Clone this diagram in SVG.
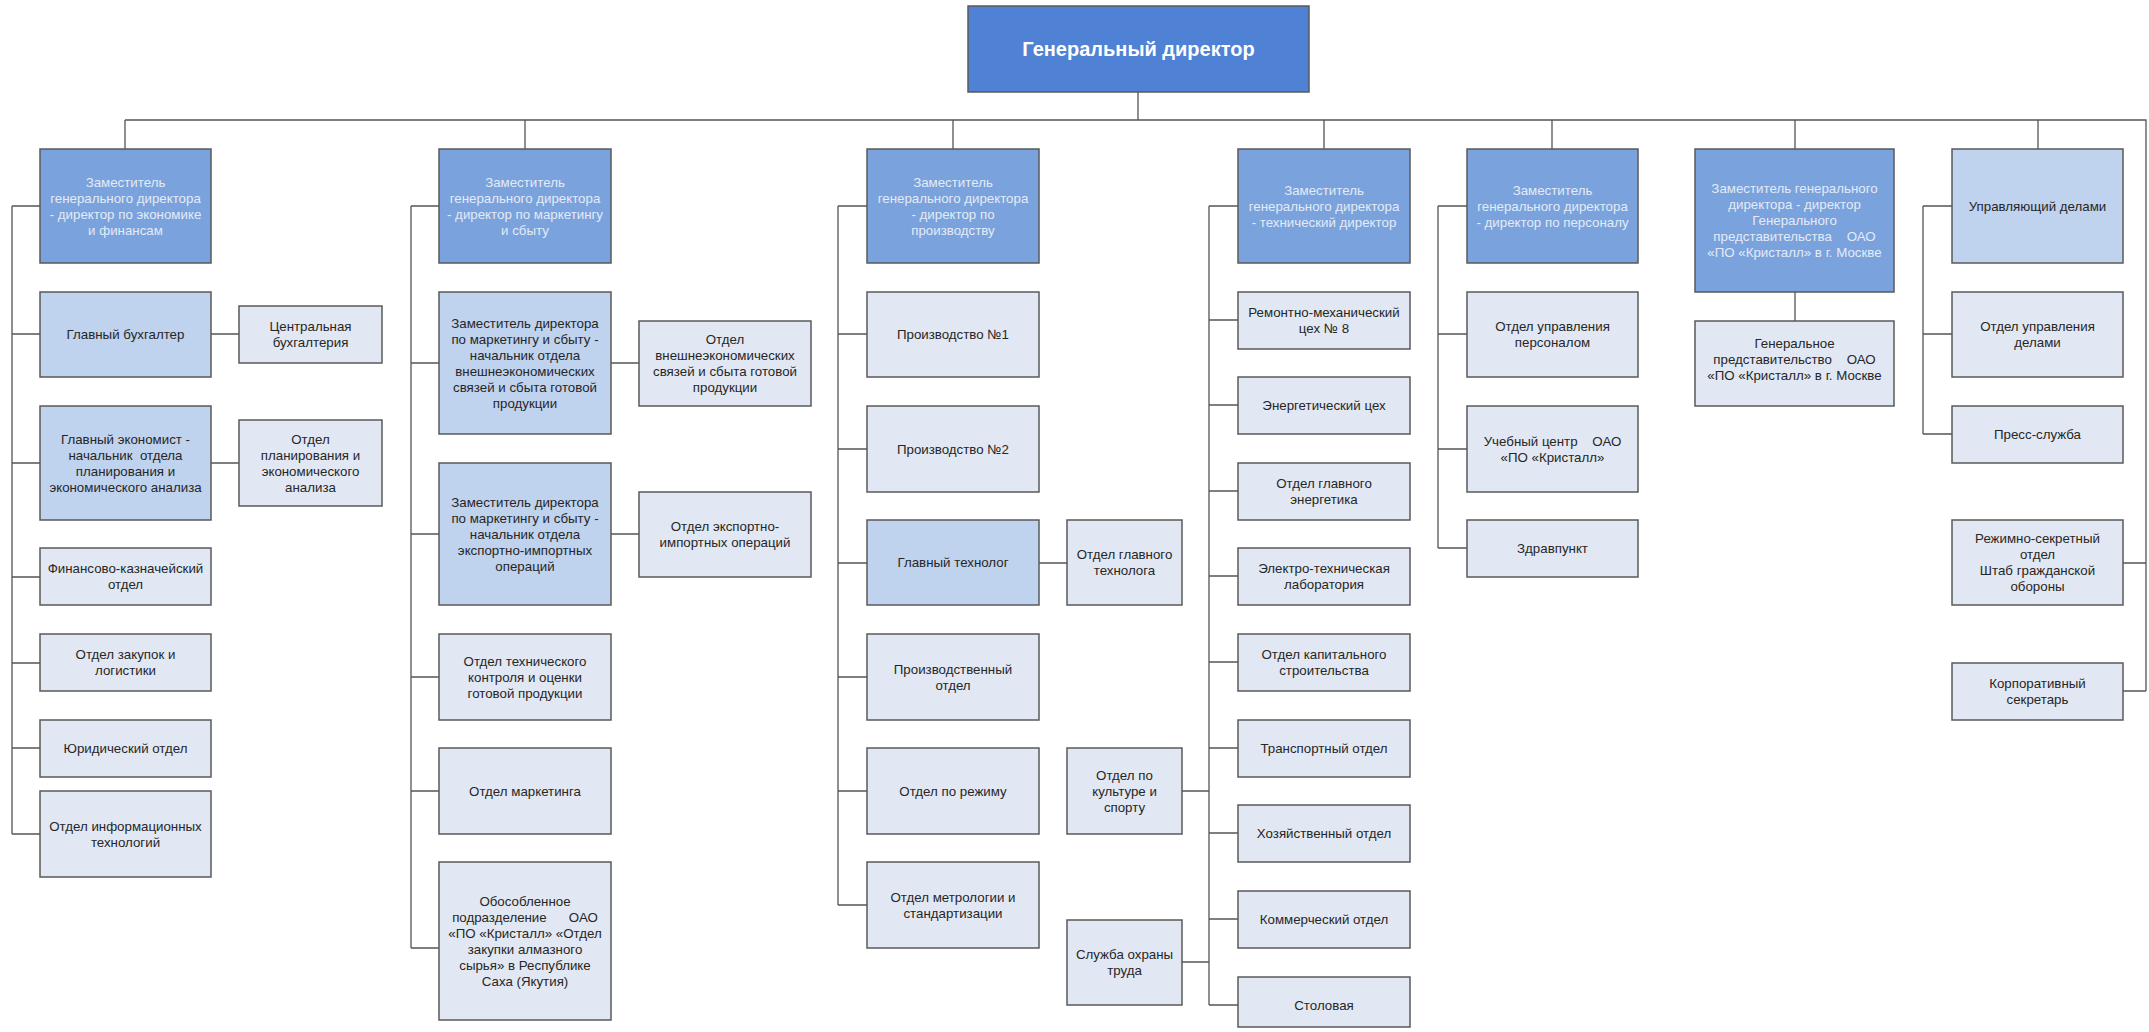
<svg xmlns="http://www.w3.org/2000/svg" width="2149" height="1032" viewBox="0 0 2149 1032">
<style>
text{font-family:"Liberation Sans",Arial,sans-serif;font-size:13.3px;fill:#262626;text-anchor:middle;white-space:pre}
rect{stroke:#5a5a5a;stroke-width:1.5}
.gd{fill:#4f81d4}
.gd text{fill:#ffffff;font-weight:bold;font-size:20px}
.hd{fill:#7aa2dc}
.hdt{fill:#e4ebf6}
.lb{fill:#bfd2ee}
.pl{fill:#e2e8f3}
#connectors path{fill:none;stroke:#555;stroke-width:1.3}
</style>
<g id="connectors">
<path d="M1138 92V120M125 120H2146V691M125 120V149M525 120V149M953 120V149M1324 120V149M1552 120V149M1795 120V149M2038 120V149"/>
<path d="M12 206V834M12 206H40M12 334H40M12 463H40M12 577H40M12 663H40M12 748H40M12 834H40M211 334H239M211 463H239"/>
<path d="M411 206V948M411 206H439M411 363H439M411 534H439M411 677H439M411 791H439M411 948H439M611 363H639M611 534H639"/>
<path d="M838 206V905M838 206H867M838 334H867M838 449H867M838 563H867M838 677H867M838 791H867M838 905H867M1039 563H1067M1182 791H1209M1182 962H1209"/>
<path d="M1209 206V1005M1209 206H1238M1209 320H1238M1209 405H1238M1209 491H1238M1209 576H1238M1209 662H1238M1209 748H1238M1209 833H1238M1209 919H1238M1209 1005H1238"/>
<path d="M1438 206V548M1438 206H1467M1438 334H1467M1438 449H1467M1438 548H1467"/>
<path d="M1795 292V321"/>
<path d="M1923 206V434M1923 206H1952M1923 334H1952M1923 434H1952M2123 563H2146M2123 691H2146"/>
</g>
<g id="gd" class="gd"><rect x="968" y="6" width="341" height="86"/><text x="1138.5" y="56">Генеральный директор</text></g>

<g id="h1"><rect class="hd" x="40" y="149" width="171" height="114"/><text class="hdt" x="125.5" y="186.5">Заместитель<tspan x="125.5" dy="16">генерального директора</tspan><tspan x="125.5" dy="16">- директор по экономике</tspan><tspan x="125.5" dy="16">и финансам</tspan></text></g>
<g id="n1a"><rect class="lb" x="40" y="292" width="171" height="85"/><text x="125.5" y="339">Главный бухгалтер</text></g>
<g id="n1a_s"><rect class="pl" x="239" y="306" width="143" height="57"/><text x="310.5" y="330.5">Центральная<tspan x="310.5" dy="16">бухгалтерия</tspan></text></g>
<g id="n1b"><rect class="lb" x="40" y="406" width="171" height="114"/><text x="125.5" y="443.5">Главный экономист -<tspan x="125.5" dy="16">начальник  отдела</tspan><tspan x="125.5" dy="16">планирования и</tspan><tspan x="125.5" dy="16">экономического анализа</tspan></text></g>
<g id="n1b_s"><rect class="pl" x="239" y="420" width="143" height="86"/><text x="310.5" y="443.5">Отдел<tspan x="310.5" dy="16">планирования и</tspan><tspan x="310.5" dy="16">экономического</tspan><tspan x="310.5" dy="16">анализа</tspan></text></g>
<g id="n1c"><rect class="pl" x="40" y="548" width="171" height="57"/><text x="125.5" y="573">Финансово-казначейский<tspan x="125.5" dy="16">отдел</tspan></text></g>
<g id="n1d"><rect class="pl" x="40" y="634" width="171" height="57"/><text x="125.5" y="659">Отдел закупок и<tspan x="125.5" dy="16">логистики</tspan></text></g>
<g id="n1e"><rect class="pl" x="40" y="720" width="171" height="57"/><text x="125.5" y="753">Юридический отдел</text></g>
<g id="n1f"><rect class="pl" x="40" y="791" width="171" height="86"/><text x="125.5" y="830.5">Отдел информационных<tspan x="125.5" dy="16">технологий</tspan></text></g>

<g id="h2"><rect class="hd" x="439" y="149" width="172" height="114"/><text class="hdt" x="525" y="186.5">Заместитель<tspan x="525" dy="16">генерального директора</tspan><tspan x="525" dy="16">- директор по маркетингу</tspan><tspan x="525" dy="16">и сбыту</tspan></text></g>
<g id="n2a"><rect class="lb" x="439" y="292" width="172" height="142"/><text x="525" y="327.5">Заместитель директора<tspan x="525" dy="16">по маркетингу и сбыту -</tspan><tspan x="525" dy="16">начальник отдела</tspan><tspan x="525" dy="16">внешнеэкономических</tspan><tspan x="525" dy="16">связей и сбыта готовой</tspan><tspan x="525" dy="16">продукции</tspan></text></g>
<g id="n2a_s"><rect class="pl" x="639" y="321" width="172" height="85"/><text x="725" y="343.5">Отдел<tspan x="725" dy="16">внешнеэкономических</tspan><tspan x="725" dy="16">связей и сбыта готовой</tspan><tspan x="725" dy="16">продукции</tspan></text></g>
<g id="n2b"><rect class="lb" x="439" y="463" width="172" height="142"/><text x="525" y="506.5">Заместитель директора<tspan x="525" dy="16">по маркетингу и сбыту -</tspan><tspan x="525" dy="16">начальник отдела</tspan><tspan x="525" dy="16">экспортно-импортных</tspan><tspan x="525" dy="16">операций</tspan></text></g>
<g id="n2b_s"><rect class="pl" x="639" y="492" width="172" height="85"/><text x="725" y="531">Отдел экспортно-<tspan x="725" dy="16">импортных операций</tspan></text></g>
<g id="n2c"><rect class="pl" x="439" y="634" width="172" height="86"/><text x="525" y="665.5">Отдел технического<tspan x="525" dy="16">контроля и оценки</tspan><tspan x="525" dy="16">готовой продукции</tspan></text></g>
<g id="n2d"><rect class="pl" x="439" y="748" width="172" height="86"/><text x="525" y="795.5">Отдел маркетинга</text></g>
<g id="n2e"><rect class="pl" x="439" y="862" width="172" height="158"/><text x="525" y="905.5">Обособленное<tspan x="525" dy="16">подразделение      ОАО</tspan><tspan x="525" dy="16">«ПО «Кристалл» «Отдел</tspan><tspan x="525" dy="16">закупки алмазного</tspan><tspan x="525" dy="16">сырья» в Республике</tspan><tspan x="525" dy="16">Саха (Якутия)</tspan></text></g>

<g id="h3"><rect class="hd" x="867" y="149" width="172" height="114"/><text class="hdt" x="953" y="186.5">Заместитель<tspan x="953" dy="16">генерального директора</tspan><tspan x="953" dy="16">- директор по</tspan><tspan x="953" dy="16">производству</tspan></text></g>
<g id="n3a"><rect class="pl" x="867" y="292" width="172" height="85"/><text x="953" y="339">Производство №1</text></g>
<g id="n3b"><rect class="pl" x="867" y="406" width="172" height="86"/><text x="953" y="453.5">Производство №2</text></g>
<g id="n3c"><rect class="lb" x="867" y="520" width="172" height="85"/><text x="953" y="567">Главный технолог</text></g>
<g id="n3c_s"><rect class="pl" x="1067" y="520" width="115" height="85"/><text x="1124.5" y="559">Отдел главного<tspan x="1124.5" dy="16">технолога</tspan></text></g>
<g id="n3d"><rect class="pl" x="867" y="634" width="172" height="86"/><text x="953" y="673.5">Производственный<tspan x="953" dy="16">отдел</tspan></text></g>
<g id="n3e"><rect class="pl" x="867" y="748" width="172" height="86"/><text x="953" y="795.5">Отдел по режиму</text></g>
<g id="n3f"><rect class="pl" x="867" y="862" width="172" height="86"/><text x="953" y="901.5">Отдел метрологии и<tspan x="953" dy="16">стандартизации</tspan></text></g>
<g id="n3g"><rect class="pl" x="1067" y="748" width="115" height="86"/><text x="1124.5" y="779.5">Отдел по<tspan x="1124.5" dy="16">культуре и</tspan><tspan x="1124.5" dy="16">спорту</tspan></text></g>
<g id="n3h"><rect class="pl" x="1067" y="920" width="115" height="85"/><text x="1124.5" y="959">Служба охраны<tspan x="1124.5" dy="16">труда</tspan></text></g>

<g id="h4"><rect class="hd" x="1238" y="149" width="172" height="114"/><text class="hdt" x="1324" y="194.5">Заместитель<tspan x="1324" dy="16">генерального директора</tspan><tspan x="1324" dy="16">- технический директор</tspan></text></g>
<g id="n4a"><rect class="pl" x="1238" y="292" width="172" height="57"/><text x="1324" y="317">Ремонтно-механический<tspan x="1324" dy="16">цех № 8</tspan></text></g>
<g id="n4b"><rect class="pl" x="1238" y="377" width="172" height="57"/><text x="1324" y="410">Энергетический цех</text></g>
<g id="n4c"><rect class="pl" x="1238" y="463" width="172" height="57"/><text x="1324" y="488">Отдел главного<tspan x="1324" dy="16">энергетика</tspan></text></g>
<g id="n4d"><rect class="pl" x="1238" y="548" width="172" height="57"/><text x="1324" y="573">Электро-техническая<tspan x="1324" dy="16">лаборатория</tspan></text></g>
<g id="n4e"><rect class="pl" x="1238" y="634" width="172" height="57"/><text x="1324" y="659">Отдел капитального<tspan x="1324" dy="16">строительства</tspan></text></g>
<g id="n4f"><rect class="pl" x="1238" y="720" width="172" height="57"/><text x="1324" y="753">Транспортный отдел</text></g>
<g id="n4g"><rect class="pl" x="1238" y="805" width="172" height="57"/><text x="1324" y="838">Хозяйственный отдел</text></g>
<g id="n4h"><rect class="pl" x="1238" y="891" width="172" height="57"/><text x="1324" y="924">Коммерческий отдел</text></g>
<g id="n4i"><rect class="pl" x="1238" y="977" width="172" height="50"/><text x="1324" y="1009.5">Столовая</text></g>

<g id="h5"><rect class="hd" x="1467" y="149" width="171" height="114"/><text class="hdt" x="1552.5" y="194.5">Заместитель<tspan x="1552.5" dy="16">генерального директора</tspan><tspan x="1552.5" dy="16">- директор по персоналу</tspan></text></g>
<g id="n5a"><rect class="pl" x="1467" y="292" width="171" height="85"/><text x="1552.5" y="331">Отдел управления<tspan x="1552.5" dy="16">персоналом</tspan></text></g>
<g id="n5b"><rect class="pl" x="1467" y="406" width="171" height="86"/><text x="1552.5" y="445.5">Учебный центр    ОАО<tspan x="1552.5" dy="16">«ПО «Кристалл»</tspan></text></g>
<g id="n5c"><rect class="pl" x="1467" y="520" width="171" height="57"/><text x="1552.5" y="553">Здравпункт</text></g>

<g id="h6"><rect class="hd" x="1695" y="149" width="199" height="143"/><text class="hdt" x="1794.5" y="192.5">Заместитель генерального<tspan x="1794.5" dy="16">директора - директор</tspan><tspan x="1794.5" dy="16">Генерального</tspan><tspan x="1794.5" dy="16">представительства    ОАО</tspan><tspan x="1794.5" dy="16">«ПО «Кристалл» в г. Москве</tspan></text></g>
<g id="n6a"><rect class="pl" x="1695" y="321" width="199" height="85"/><text x="1794.5" y="347.5">Генеральное<tspan x="1794.5" dy="16">представительство    ОАО</tspan><tspan x="1794.5" dy="16">«ПО «Кристалл» в г. Москве</tspan></text></g>

<g id="h7"><rect class="lb" x="1952" y="149" width="171" height="114"/><text x="2037.5" y="210.5">Управляющий делами</text></g>
<g id="n7a"><rect class="pl" x="1952" y="292" width="171" height="85"/><text x="2037.5" y="331">Отдел управления<tspan x="2037.5" dy="16">делами</tspan></text></g>
<g id="n7b"><rect class="pl" x="1952" y="406" width="171" height="57"/><text x="2037.5" y="439">Пресс-служба</text></g>
<g id="n7c"><rect class="pl" x="1952" y="520" width="171" height="85"/><text x="2037.5" y="543">Режимно-секретный<tspan x="2037.5" dy="16">отдел</tspan><tspan x="2037.5" dy="16">Штаб гражданской</tspan><tspan x="2037.5" dy="16">обороны</tspan></text></g>
<g id="n7d"><rect class="pl" x="1952" y="663" width="171" height="57"/><text x="2037.5" y="688">Корпоративный<tspan x="2037.5" dy="16">секретарь</tspan></text></g>
</svg>
